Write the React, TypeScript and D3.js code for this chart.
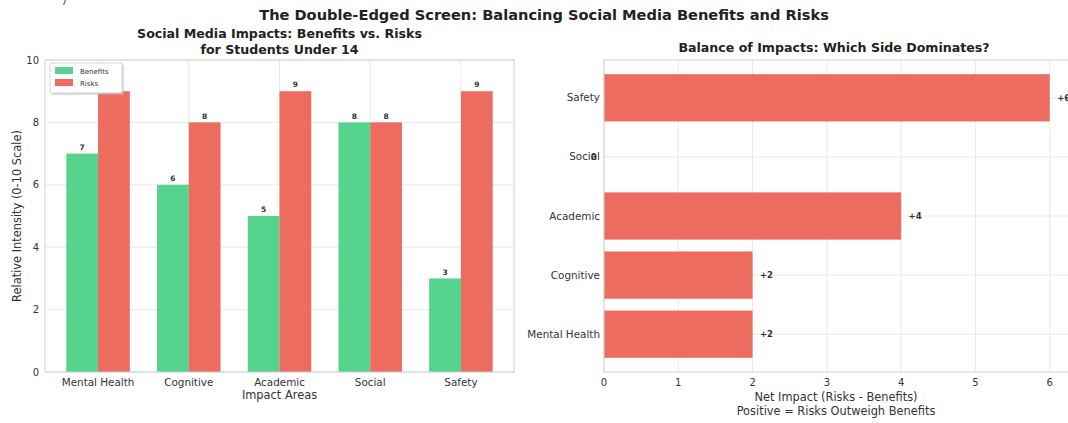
import React from "react";
import * as d3 from "d3";

const categories = ["Mental Health", "Cognitive", "Academic", "Social", "Safety"];
const benefits = [7, 6, 5, 8, 3];
const risks = [9, 8, 9, 8, 9];
const netImpact = [2, 2, 4, 0, 6];
const leftYTicks = [0, 2, 4, 6, 8, 10];
const rightXTicks = [0, 1, 2, 3, 4, 5, 6];

const W = 1068;
const H = 423;
const FONT = "'DejaVu Sans', Verdana, sans-serif";
const GREEN = "#56d48d";
const RED = "#ec6c5f";
const GRID = "#e3e3e3";
const SPINE = "#cfcfcf";
const TXT = "#333";

export default function App() {
  // Left chart
  const L = { left: 45, right: 514, top: 60, bottom: 372 };
  const barW = 0.35;
  const xL = d3.scaleLinear().domain([-0.585, 4.585]).range([L.left, L.right]);
  const yL = d3.scaleLinear().domain([0, 10]).range([L.bottom, L.top]);
  const unitL = xL(1) - xL(0);

  // Right chart
  const R = { left: 604, right: 1072, top: 60, bottom: 372 };
  const xR = d3.scaleLinear().domain([0, 6.3]).range([R.left, R.right]);
  const yR = d3.scaleLinear().domain([-0.64, 4.64]).range([R.bottom, R.top]);
  const unitR = yR(0) - yR(1);
  const barH = 0.8;

  return (
    <svg
      width={W}
      height={H}
      style={{ position: "fixed", left: 0, top: 0, background: "#fff" }}
      fontFamily={FONT}
    >
      <rect x={0} y={0} width={W} height={H} fill="#fff" />
      <text x={62} y={4} fontSize={12} fill="#555">)</text>
      <text x={544} y={20} textAnchor="middle" fontSize={14.6} fontWeight="bold" fill="#222">
        The Double-Edged Screen: Balancing Social Media Benefits and Risks
      </text>

      {/* LEFT CHART */}
      <text x={(L.left + L.right) / 2} y={37.5} textAnchor="middle" fontSize={12.6} fontWeight="bold" fill="#222">
        Social Media Impacts: Benefits vs. Risks
      </text>
      <text x={(L.left + L.right) / 2} y={53.5} textAnchor="middle" fontSize={12.6} fontWeight="bold" fill="#222">
        for Students Under 14
      </text>
      {leftYTicks.map((t) => (
        <g key={"ly" + t}>
          <line x1={L.left} x2={L.right} y1={yL(t)} y2={yL(t)} stroke={GRID} strokeWidth={0.8} />
          <text x={L.left - 6} y={yL(t) + 3.5} textAnchor="end" fontSize={10} fill={TXT}>{t}</text>
        </g>
      ))}
      {categories.map((c, i) => (
        <g key={"lx" + c}>
          <line x1={xL(i)} x2={xL(i)} y1={L.top} y2={L.bottom} stroke={GRID} strokeWidth={0.8} />
          <text x={xL(i)} y={L.bottom + 14} textAnchor="middle" fontSize={10.4} fill={TXT}>{c}</text>
        </g>
      ))}
      {categories.map((c, i) => (
        <g key={"lb" + c}>
          <rect
            x={xL(i - barW)}
            y={yL(benefits[i])}
            width={barW * unitL}
            height={yL(0) - yL(benefits[i])}
            fill={GREEN}
          />
          <rect
            x={xL(i)}
            y={yL(risks[i])}
            width={barW * unitL}
            height={yL(0) - yL(risks[i])}
            fill={RED}
          />
          <text x={xL(i - barW / 2)} y={yL(benefits[i] + 0.12)} textAnchor="middle" fontSize={7.5} fontWeight="bold" fill="#333">
            {benefits[i]}
          </text>
          <text x={xL(i + barW / 2)} y={yL(risks[i] + 0.12)} textAnchor="middle" fontSize={7.5} fontWeight="bold" fill="#333">
            {risks[i]}
          </text>
        </g>
      ))}
      <rect x={L.left} y={L.top} width={L.right - L.left} height={L.bottom - L.top} fill="none" stroke={SPINE} strokeWidth={1} />
      {/* legend */}
      <rect x={52} y={65} width={72} height={30} fill="#bbb" opacity={0.5} />
      <rect x={50} y={63} width={72} height={30} fill="#fff" stroke="#ccc" strokeWidth={0.8} />
      <rect x={55} y={67} width={18} height={7} fill={GREEN} />
      <rect x={55} y={79} width={18} height={7} fill={RED} />
      <text x={80} y={73.5} fontSize={7} fill={TXT}>Benefits</text>
      <text x={80} y={85.5} fontSize={7} fill={TXT}>Risks</text>
      <text
        transform={`translate(21,${(L.top + L.bottom) / 2}) rotate(-90)`}
        textAnchor="middle"
        fontSize={11.4}
        fill={TXT}
      >
        Relative Intensity (0-10 Scale)
      </text>
      <text x={(L.left + L.right) / 2} y={399} textAnchor="middle" fontSize={11.4} fill={TXT}>
        Impact Areas
      </text>

      {/* RIGHT CHART */}
      <text x={834} y={52} textAnchor="middle" fontSize={12.6} fontWeight="bold" fill="#222">
        Balance of Impacts: Which Side Dominates?
      </text>
      {rightXTicks.map((t) => (
        <g key={"rx" + t}>
          <line x1={xR(t)} x2={xR(t)} y1={R.top} y2={R.bottom} stroke={GRID} strokeWidth={0.8} />
          <text x={xR(t)} y={R.bottom + 14} textAnchor="middle" fontSize={10} fill={TXT}>{t}</text>
        </g>
      ))}
      {categories.map((c, i) => (
        <g key={"ry" + c}>
          <line x1={R.left} x2={R.right} y1={yR(i)} y2={yR(i)} stroke={GRID} strokeWidth={0.8} />
          <text x={R.left - 4} y={yR(i) + 3.5} textAnchor="end" fontSize={10.4} fill={TXT}>{c}</text>
        </g>
      ))}
      {categories.map((c, i) => (
        <g key={"rb" + c}>
          {netImpact[i] > 0 && (
            <rect
              x={xR(0)}
              y={yR(i + barH / 2)}
              width={xR(netImpact[i]) - xR(0)}
              height={barH * unitR}
              fill={RED}
            />
          )}
          <text
            x={netImpact[i] > 0 ? xR(netImpact[i] + 0.1) : xR(-0.1)}
            y={yR(i) + 3}
            textAnchor={netImpact[i] > 0 ? "start" : "end"}
            fontSize={8.5}
            fontWeight="bold"
            fill="#333"
          >
            {netImpact[i] > 0 ? `+${netImpact[i]}` : `${netImpact[i]}`}
          </text>
        </g>
      ))}
      <rect x={R.left} y={R.top} width={R.right - R.left} height={R.bottom - R.top} fill="none" stroke={SPINE} strokeWidth={1} />
      <text x={836} y={401} textAnchor="middle" fontSize={11.4} fill={TXT}>
        Net Impact (Risks - Benefits)
      </text>
      <text x={836} y={415} textAnchor="middle" fontSize={11.4} fill={TXT}>
        Positive = Risks Outweigh Benefits
      </text>
    </svg>
  );
}
